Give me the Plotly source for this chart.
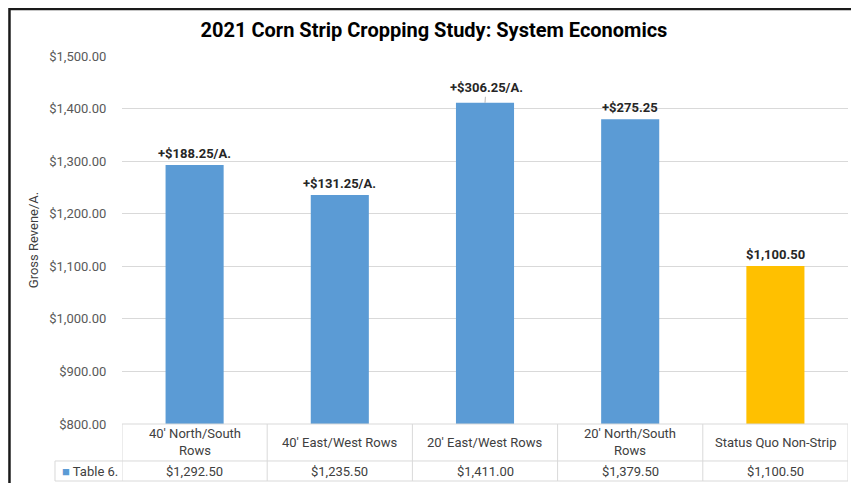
import plotly.graph_objects as go

# data
categories = ["40' North/South<br>Rows", "40' East/West Rows", "20' East/West Rows",
              "20' North/South<br>Rows", "Status Quo Non-Strip"]
revenue = [1292.50, 1235.50, 1411.00, 1379.50, 1100.50]
bar_labels = ["+$188.25/A.", "+$131.25/A.", "+$306.25/A.", "+$275.25", "$1,100.50"]
table_values = ["$1,292.50", "$1,235.50", "$1,411.00", "$1,379.50", "$1,100.50"]
series_name = "Table 6."
y_ticks = [800, 900, 1000, 1100, 1200, 1300, 1400, 1500]

BLUE = "#5B9BD5"
GOLD = "#FFC000"
GRID = "#D9D9D9"
FONT = "Roboto"
TXT = 13

x_pos = list(range(len(categories)))
colors = [BLUE] * (len(categories) - 1) + [GOLD]

fig = go.Figure(go.Bar(
    x=x_pos, y=revenue,
    marker=dict(color=colors, line=dict(width=0)),
    width=0.4,
    hoverinfo="skip",
))

annotations = []
# data labels above bars
for i, (v, lab) in enumerate(zip(revenue, bar_labels)):
    if i == 2:
        # label pulled up with a leader line
        annotations.append(dict(x=i, y=v, xref="x", yref="y", text=f"<b>{lab}</b>",
                                showarrow=True, arrowhead=0, arrowwidth=0.8, arrowcolor="#A6A6A6",
                                ax=1, ay=-15, font=dict(family=FONT, size=TXT, color="#262626")))
    else:
        annotations.append(dict(x=i, y=v, xref="x", yref="y", text=f"<b>{lab}</b>",
                                showarrow=False, yanchor="bottom", yshift=2,
                                font=dict(family=FONT, size=TXT, color="#262626")))

# data table below the axis
row1_mid = -0.050
row2_mid = -0.128
for i, (cat, val) in enumerate(zip(categories, table_values)):
    annotations.append(dict(x=i, y=row1_mid, xref="x", yref="paper", text=cat,
                            showarrow=False, yanchor="middle",
                            font=dict(family=FONT, size=TXT, color="#404040")))
    annotations.append(dict(x=i, y=row2_mid, xref="x", yref="paper", text=val,
                            showarrow=False, yanchor="middle",
                            font=dict(family=FONT, size=TXT, color="#404040")))
# legend key cell sits left of the plot area, so it uses paper coordinates
annotations.append(dict(x=-0.003, y=row2_mid, xref="paper", yref="paper",
                        text=f"<span style='color:{BLUE}'>■</span> {series_name}",
                        showarrow=False, xanchor="right", yanchor="middle",
                        font=dict(family=FONT, size=TXT, color="#404040")))

left_edge = -0.0923  # paper
r1 = -0.1005
r2 = -0.1549
shapes = []
line = dict(color=GRID, width=1)
for k in range(len(categories) + 1):
    shapes.append(dict(type="line", xref="x", yref="paper", x0=k - 0.5, x1=k - 0.5,
                       y0=r2, y1=0, line=line))
shapes.append(dict(type="line", xref="paper", yref="paper", x0=left_edge, x1=left_edge,
                   y0=r2, y1=r1, line=line))
shapes.append(dict(type="line", xref="x", yref="paper", x0=-0.5, x1=len(categories) - 0.5,
                   y0=0, y1=0, line=line))
for yy in (r1, r2):
    shapes.append(dict(type="line", xref="paper", yref="paper", x0=left_edge,
                       x1=1, y0=yy, y1=yy, line=line))
# outer chart border (cut off at right and bottom)
shapes.append(dict(type="rect", xref="paper", yref="paper", x0=-0.155, x1=1.2,
                   y0=-0.3, y1=1.128, line=dict(color="#1A1A1A", width=2.5),
                   fillcolor="rgba(0,0,0,0)", layer="above"))

# page body adds an 8px margin, so the figure is 8px smaller than the window
fig.update_layout(
    width=851, height=475,
    margin=dict(l=114, r=11, t=48, b=59),
    paper_bgcolor="white", plot_bgcolor="white",
    showlegend=False,
    title=dict(text="<b>2021 Corn Strip Cropping Study: System Economics</b>",
               x=0.5006, xanchor="center", y=0.9537, yanchor="middle",
               font=dict(family=FONT, size=20, color="#000000")),
    xaxis=dict(range=[-0.5, len(categories) - 0.5], showticklabels=False,
               showgrid=False, zeroline=False, showline=False, fixedrange=True),
    yaxis=dict(range=[800, 1500], tickvals=y_ticks, tickformat="$,.2f",
               showgrid=True, gridcolor=GRID, gridwidth=1, zeroline=False,
               showline=False, ticks="outside", ticklen=12, tickcolor="rgba(0,0,0,0)",
               tickfont=dict(family=FONT, size=TXT, color="#595959"),
               title=dict(text="Gross Revene/A.", standoff=7,
                          font=dict(family=FONT, size=TXT, color="#404040"))),
    annotations=annotations,
    shapes=shapes,
    font=dict(family=FONT),
)

fig.write_html("out.html")
